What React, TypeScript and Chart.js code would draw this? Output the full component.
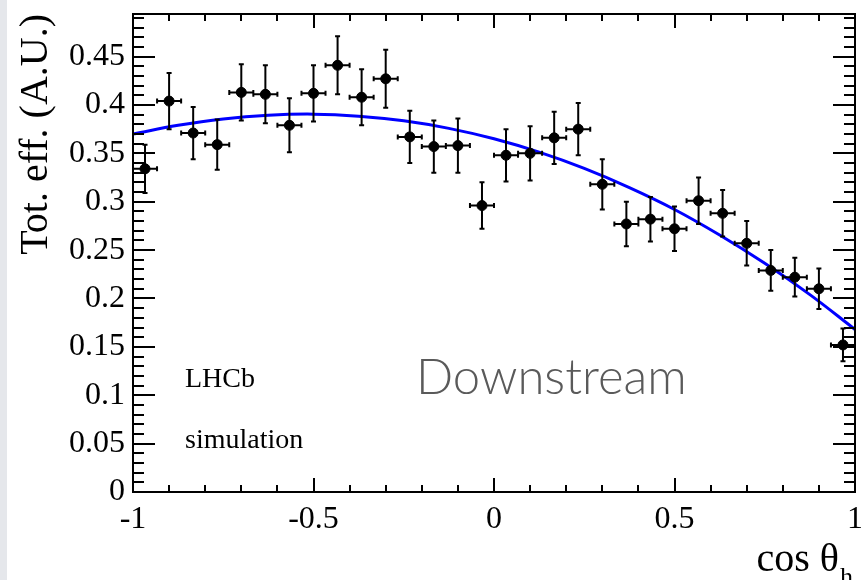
import React, { useEffect, useRef } from 'react';
import { Chart, registerables } from 'chart.js';

Chart.register(...registerables);

// ---- data ----
const binCenters = [
  -0.9667, -0.9, -0.8333, -0.7667, -0.7, -0.6333, -0.5667, -0.5, -0.4333, -0.3667,
  -0.3, -0.2333, -0.1667, -0.1, -0.0333, 0.0333, 0.1, 0.1667, 0.2333, 0.3,
  0.3667, 0.4333, 0.5, 0.5667, 0.6333, 0.7, 0.7667, 0.8333, 0.9, 0.9667,
];
const efficiency = [
  0.334, 0.404, 0.371, 0.359, 0.413, 0.411, 0.379, 0.412, 0.441, 0.408,
  0.427, 0.367, 0.357, 0.358, 0.296, 0.348, 0.35, 0.366, 0.375, 0.318,
  0.277, 0.282, 0.272, 0.301, 0.288, 0.257, 0.229, 0.222, 0.21, 0.152,
];
const efficiencyError = [
  0.025, 0.029, 0.027, 0.026, 0.029, 0.03, 0.028, 0.029, 0.03, 0.029,
  0.03, 0.027, 0.027, 0.028, 0.024, 0.027, 0.028, 0.027, 0.027, 0.026,
  0.023, 0.023, 0.023, 0.024, 0.024, 0.023, 0.021, 0.02, 0.021, 0.017,
];
const binHalfWidth = 0.0333;

const fitX = [-1, -0.875, -0.75, -0.625, -0.5, -0.375, -0.25, -0.125, 0, 0.125, 0.25, 0.375, 0.5, 0.625, 0.75, 0.875, 1];
const fitY = [0.37, 0.379, 0.3856, 0.3894, 0.3905, 0.3884, 0.3836, 0.3758, 0.365, 0.3512, 0.3344, 0.3146, 0.292, 0.2656, 0.2364, 0.204, 0.168];

const xRange = [-1, 1];
const yRange = [0, 0.494];
const xTickStep = 0.5;
const yTickStep = 0.05;

const yTitle = 'Tot. eff. (A.U.)';
const xTitle = 'cos θ';
const xTitleSub = 'h';
const labelLHCb = 'LHCb';
const labelSim = 'simulation';
const labelDownstream = 'Downstream';

const SERIF = '"Liberation Serif", "Times New Roman", serif';

const fmt = (v: number | string) => String(Number(Number(v).toFixed(3)));

const backgroundPlugin = {
  id: 'bg',
  beforeDraw(chart: any) {
    const { ctx, width, height } = chart;
    ctx.save();
    ctx.fillStyle = '#ffffff';
    ctx.fillRect(0, 0, width, height);
    ctx.fillStyle = '#e5e7eb';
    ctx.fillRect(0, 0, 7, height);
    ctx.restore();
  },
};

const errorBarPlugin = {
  id: 'errorBars',
  afterDatasetsDraw(chart: any) {
    const { ctx } = chart;
    const x = chart.scales.x;
    const y = chart.scales.y;
    ctx.save();
    ctx.strokeStyle = '#000';
    ctx.lineWidth = 2;
    const c = 2.5;
    ctx.beginPath();
    binCenters.forEach((bx, i) => {
      const px = x.getPixelForValue(bx);
      const py = y.getPixelForValue(efficiency[i]);
      const x0 = x.getPixelForValue(bx - binHalfWidth);
      const x1 = x.getPixelForValue(bx + binHalfWidth);
      const y0 = y.getPixelForValue(efficiency[i] - efficiencyError[i]);
      const y1 = y.getPixelForValue(efficiency[i] + efficiencyError[i]);
      ctx.moveTo(x0, py); ctx.lineTo(x1, py);
      ctx.moveTo(px, y0); ctx.lineTo(px, y1);
      ctx.moveTo(x0, py - c); ctx.lineTo(x0, py + c);
      ctx.moveTo(x1, py - c); ctx.lineTo(x1, py + c);
      ctx.moveTo(px - c, y0); ctx.lineTo(px + c, y0);
      ctx.moveTo(px - c, y1); ctx.lineTo(px + c, y1);
    });
    ctx.stroke();
    ctx.restore();
  },
};

const framePlugin = {
  id: 'frameTicks',
  afterDraw(chart: any) {
    const { ctx, chartArea } = chart;
    const { left, right, top, bottom } = chartArea;
    const x = chart.scales.x;
    const y = chart.scales.y;
    ctx.save();
    ctx.strokeStyle = '#000';
    ctx.lineWidth = 2;
    ctx.strokeRect(left, top, right - left, bottom - top);
    ctx.beginPath();
    // y ticks: minor every 0.01, major every 0.05
    for (let k = 0; k <= 49; k++) {
      const v = k / 100;
      if (v > yRange[1]) break;
      const py = Math.round(y.getPixelForValue(v));
      const len = k % 5 === 0 ? 22 : 11;
      ctx.moveTo(left, py); ctx.lineTo(left + len, py);
      ctx.moveTo(right, py); ctx.lineTo(right - len, py);
    }
    // x ticks: minor every 0.1, major every 0.5
    for (let k = -10; k <= 10; k++) {
      const v = k / 10;
      const px = Math.round(x.getPixelForValue(v));
      const len = k % 5 === 0 ? 14 : 7;
      ctx.moveTo(px, bottom); ctx.lineTo(px, bottom - len);
      ctx.moveTo(px, top); ctx.lineTo(px, top + len);
    }
    ctx.stroke();

    // text annotations
    ctx.fillStyle = '#000';
    ctx.textBaseline = 'alphabetic';
    ctx.textAlign = 'left';
    ctx.font = `28px ${SERIF}`;
    ctx.fillText(labelLHCb, 185, 387);
    ctx.fillText(labelSim, 185, 448);

    ctx.fillStyle = '#5a5a5a';
    ctx.font = `300 49px Lato, "Open Sans", sans-serif`;
    ctx.fillText(labelDownstream, 416, 394);

    // x title with subscript
    ctx.fillStyle = '#000';
    ctx.textAlign = 'right';
    ctx.font = `40px ${SERIF}`;
    ctx.fillText(xTitle, 839, 571);
    ctx.textAlign = 'left';
    ctx.font = `26px ${SERIF}`;
    ctx.fillText(xTitleSub, 840, 585);
    ctx.restore();
  },
};

export default function App() {
  const ref = useRef<HTMLCanvasElement>(null);

  useEffect(() => {
    const canvas = ref.current;
    if (!canvas) return;
    const chart = new Chart(canvas, {
      type: 'scatter',
      data: {
        datasets: [
          {
            type: 'scatter',
            label: 'efficiency',
            data: binCenters.map((bx, i) => ({ x: bx, y: efficiency[i] })),
            backgroundColor: '#000',
            borderColor: '#000',
            pointRadius: 5,
            pointHoverRadius: 5,
            order: 0,
          },
          {
            type: 'line',
            label: 'fit',
            data: fitX.map((fx, i) => ({ x: fx, y: fitY[i] })),
            borderColor: '#0000ff',
            borderWidth: 3,
            pointRadius: 0,
            fill: false,
            tension: 0.4,
            order: 1,
          } as any,
        ],
      },
      options: {
        responsive: false,
        animation: false,
        devicePixelRatio: 1,
        layout: { padding: { top: 14, right: 3, left: 0, bottom: 0 } },
        plugins: { legend: { display: false }, tooltip: { enabled: false } },
        scales: {
          x: {
            type: 'linear',
            min: xRange[0],
            max: xRange[1],
            grid: { display: false, drawTicks: false },
            border: { display: false },
            ticks: {
              stepSize: xTickStep,
              autoSkip: false,
              maxRotation: 0,
              padding: 8,
              color: '#000',
              font: { family: SERIF, size: 32 },
              callback: (v: any) => fmt(v),
            },
            afterFit: (s: any) => {
              s.height = 88;
              s.paddingLeft = 0;
              s.paddingRight = 0;
            },
          },
          y: {
            type: 'linear',
            min: yRange[0],
            max: yRange[1],
            grid: { display: false, drawTicks: false },
            border: { display: false },
            title: {
              display: true,
              text: yTitle,
              align: 'end',
              color: '#000',
              font: { family: SERIF, size: 40, lineHeight: 1.2 },
              padding: { top: 12, bottom: 0 },
            },
            ticks: {
              stepSize: yTickStep,
              includeBounds: false,
              padding: 8,
              color: '#000',
              font: { family: SERIF, size: 32 },
              callback: (v: any) => fmt(v),
            },
            afterFit: (s: any) => {
              s.width = 133;
              s.paddingTop = 0;
              s.paddingBottom = 0;
            },
          },
        },
      } as any,
      plugins: [backgroundPlugin, errorBarPlugin, framePlugin],
    });
    return () => chart.destroy();
  }, []);

  return (
    <div style={{ position: 'absolute', left: 0, top: 0, width: 861, height: 580, overflow: 'hidden' }}>
      <canvas ref={ref} width={861} height={580} style={{ display: 'block', width: 861, height: 580 }} />
    </div>
  );
}
